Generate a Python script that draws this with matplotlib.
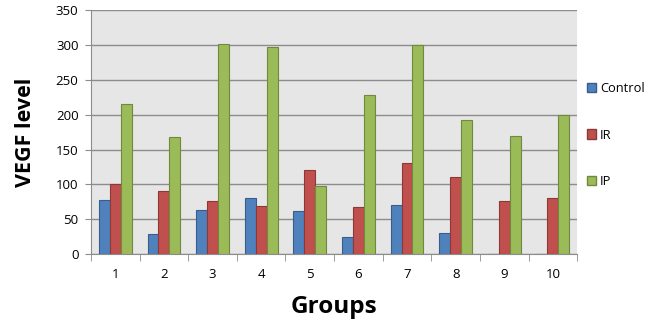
import numpy as np
import matplotlib.pyplot as plt
from matplotlib.patches import Patch

groups = ['1', '2', '3', '4', '5', '6', '7', '8', '9', '10']
control = [78, 29, 63, 81, 62, 25, 70, 30, 0, 0]
ir = [100, 90, 76, 69, 120, 68, 130, 110, 76, 80]
ip = [215, 168, 301, 297, 98, 228, 300, 193, 170, 200]

series_names = ['Control', 'IR', 'IP']
fills = ['#4f81bd', '#c0504d', '#9bbb59']
edges = ['#385d8a', '#8c3836', '#71893f']

plt.rcParams['font.family'] = ['Open Sans', 'DejaVu Sans']

fig = plt.figure(figsize=(6.5, 3.27), dpi=100)
ax = fig.add_axes([0.14, 0.223, 0.748, 0.746])
ax.set_facecolor('#e6e6e6')

x = np.arange(len(groups))
w = 0.225
for i, vals in enumerate([control, ir, ip]):
    ax.bar(x + (i - 1) * w, vals, width=w, color=fills[i], edgecolor=edges[i],
           linewidth=0.8, zorder=3)

ax.set_xlim(-0.5, len(groups) - 0.5)
ax.set_ylim(0, 350)
ax.set_yticks(range(0, 351, 50))
ax.yaxis.grid(True, color='#8c8c8c', linewidth=1)
ax.set_axisbelow(True)

ax.set_xticks(x)
ax.set_xticklabels(groups, fontsize=9.5)
ax.set_xticks(np.arange(-0.5, len(groups), 1), minor=True)
ax.tick_params(axis='x', which='major', length=0, pad=10)
ax.tick_params(axis='x', which='minor', length=5, color='#8c8c8c')
ax.tick_params(axis='y', labelsize=9.5, length=4, color='#8c8c8c', pad=5)

for s in ['top', 'right']:
    ax.spines[s].set_visible(False)
for s in ['left', 'bottom']:
    ax.spines[s].set_color('#8c8c8c')

ax.set_ylabel('VEGF level', fontsize=15.5, fontweight='bold', labelpad=14)
ax.set_xlabel('Groups', fontsize=17.5, fontweight='bold', labelpad=10)

handles = [Patch(facecolor=fills[i], edgecolor=edges[i], label=series_names[i])
           for i in range(3)]
fig.legend(handles=handles, loc='upper left', bbox_to_anchor=(0.885, 0.785),
           frameon=False, fontsize=9.3, handlelength=0.7, handleheight=0.7,
           handletextpad=0.3, labelspacing=2.6)

fig.savefig('out.png', dpi=100)
